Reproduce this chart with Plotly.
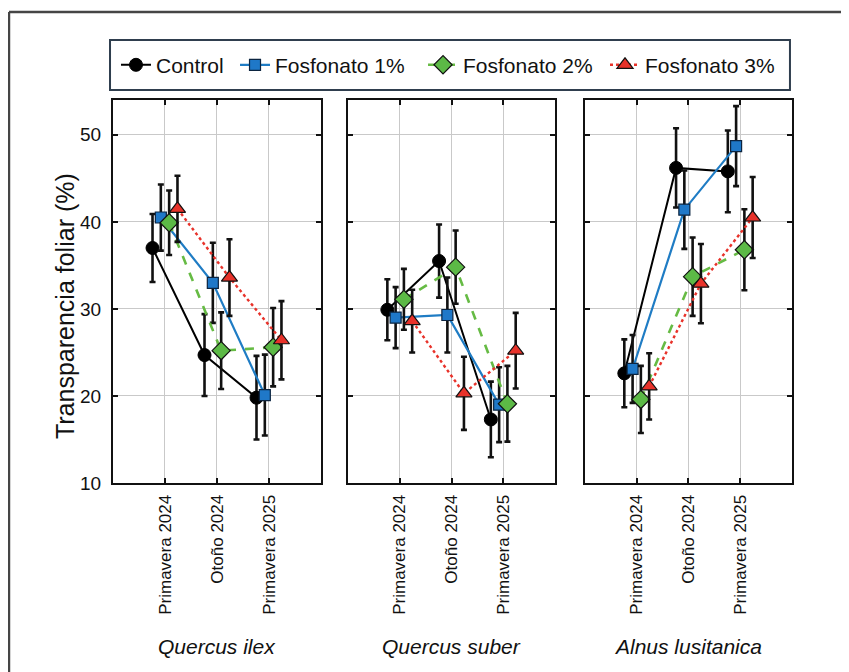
import plotly.graph_objects as go

# ---------------- data ----------------
periods = ["Primavera 2024", "Otoño 2024", "Primavera 2025"]
species = ["Quercus ilex", "Quercus suber", "Alnus lusitanica"]
treatments = ["Control", "Fosfonato 1%", "Fosfonato 2%", "Fosfonato 3%"]

# Quercus ilex
ilex_control = [37.0, 24.7, 19.8]
ilex_control_err = [3.9, 4.7, 4.8]
ilex_f1 = [40.5, 33.0, 20.1]
ilex_f1_err = [3.8, 4.6, 4.65]
ilex_f2 = [39.9, 25.2, 25.6]
ilex_f2_err = [3.7, 4.4, 4.5]
ilex_f3 = [41.5, 33.6, 26.4]
ilex_f3_err = [3.8, 4.4, 4.5]

# Quercus suber
suber_control = [29.9, 35.5, 17.3]
suber_control_err = [3.5, 4.2, 4.35]
suber_f1 = [29.0, 29.3, 19.0]
suber_f1_err = [3.5, 4.3, 4.3]
suber_f2 = [31.1, 34.8, 19.1]
suber_f2_err = [3.5, 4.2, 4.35]
suber_f3 = [28.6, 20.3, 25.2]
suber_f3_err = [3.6, 4.2, 4.35]

# Alnus lusitanica
alnus_control = [22.6, 46.2, 45.8]
alnus_control_err = [3.9, 4.55, 4.7]
alnus_f1 = [23.1, 41.4, 48.7]
alnus_f1_err = [3.9, 4.5, 4.6]
alnus_f2 = [19.6, 33.7, 36.8]
alnus_f2_err = [3.85, 4.5, 4.65]
alnus_f3 = [21.1, 32.9, 40.5]
alnus_f3_err = [3.8, 4.55, 4.65]

y_ticks = [10, 20, 30, 40, 50]

panels = [
    [(ilex_control, ilex_control_err), (ilex_f1, ilex_f1_err), (ilex_f2, ilex_f2_err), (ilex_f3, ilex_f3_err)],
    [(suber_control, suber_control_err), (suber_f1, suber_f1_err), (suber_f2, suber_f2_err), (suber_f3, suber_f3_err)],
    [(alnus_control, alnus_control_err), (alnus_f1, alnus_f1_err), (alnus_f2, alnus_f2_err), (alnus_f3, alnus_f3_err)],
]

# ---------------- style ----------------
FONT = "Liberation Sans"
dodge = [-0.24, -0.08, 0.08, 0.24]
styles = [
    dict(line=dict(color="#000000", width=2, dash="solid"),
         marker=dict(symbol="circle", size=13, color="#000000", line=dict(color="#000000", width=1))),
    dict(line=dict(color="#1f7cc4", width=2.2, dash="solid"),
         marker=dict(symbol="square", size=11, color="#1f78c8", line=dict(color="#0b2440", width=1.2))),
    dict(line=dict(color="#66bb44", width=2.6, dash="dash"),
         marker=dict(symbol="diamond", size=14, color="#5cb946", line=dict(color="#111111", width=1.2))),
    dict(line=dict(color="#e8322a", width=2.4, dash="dot"),
         marker=dict(symbol="triangle-up", size=14, color="#e8322a", line=dict(color="#111111", width=1.2))),
]
legend_ids = ["legend", "legend2", "legend3", "legend4"]
legend_x = [0.0044, 0.1797, 0.4566, 0.7246]

domains = [[0.0, 0.3063], [0.3461, 0.6510], [0.6951, 1.0]]

fig = go.Figure()
for p, series in enumerate(panels):
    xa = "x" if p == 0 else f"x{p+1}"
    ya = "y" if p == 0 else f"y{p+1}"
    for t, (vals, errs) in enumerate(series):
        xs = [i + 1 + dodge[t] for i in range(len(periods))]
        st = styles[t]
        fig.add_trace(go.Scatter(
            x=xs, y=vals, mode="lines+markers", name=treatments[t],
            legendgroup=treatments[t], showlegend=(p == 0), legend=legend_ids[t],
            line=st["line"], marker=st["marker"],
            error_y=dict(type="data", array=errs, visible=True,
                         color="#111111", thickness=2.6, width=3),
            xaxis=xa, yaxis=ya,
        ))

axis_common = dict(
    showline=True, mirror="allticks", linecolor="#111111", linewidth=2,
    ticks="inside", ticklen=5, tickwidth=1.5, tickcolor="#111111",
    showgrid=True, gridcolor="#c9c9c9", gridwidth=1, zeroline=False,
)

layout = dict(
    width=841, height=664,
    paper_bgcolor="white", plot_bgcolor="white",
    margin=dict(l=105, r=57, t=92, b=189),
    font=dict(family=FONT, color="#111111"),
    showlegend=True,
)
for lid, lx in zip(legend_ids, legend_x):
    layout[lid] = dict(orientation="h", x=lx, xanchor="left", y=1.091, yanchor="middle",
                       font=dict(family=FONT, size=21, color="#111111"),
                       bgcolor="rgba(0,0,0,0)", borderwidth=0, itemwidth=30)

for p in range(3):
    xk = "xaxis" if p == 0 else f"xaxis{p+1}"
    yk = "yaxis" if p == 0 else f"yaxis{p+1}"
    layout[xk] = dict(axis_common, domain=domains[p], range=[0, 4],
                      tickvals=[1, 2, 3], ticktext=periods, tickangle=-90,
                      ticklabelstandoff=3,
                      tickfont=dict(family=FONT, size=17, color="#111111"),
                      anchor="y" if p == 0 else f"y{p+1}")
    layout[yk] = dict(axis_common, range=[10, 54], tickvals=y_ticks,
                      showticklabels=(p == 0), ticklabelstandoff=6,
                      tickfont=dict(family=FONT, size=19, color="#111111"),
                      anchor="x" if p == 0 else f"x{p+1}")

fig.update_layout(**layout)

annotations = []
for p, name in enumerate(species):
    cx = (domains[p][0] + domains[p][1]) / 2
    annotations.append(dict(
        x=cx, y=-0.4256, xref="paper", yref="paper", text=f"<i>{name}</i>",
        showarrow=False, font=dict(family=FONT, size=21, color="#111111"),
        xanchor="center", yanchor="middle"))
annotations.append(dict(
    x=-0.0707, y=0.462, xref="paper", yref="paper", text="Transparencia foliar (%)",
    textangle=-90, showarrow=False, font=dict(family=FONT, size=25, color="#111111"),
    xanchor="center", yanchor="middle"))
fig.update_layout(annotations=annotations)

frame_line = dict(color="#454545", width=2.5)
shapes = [
    # outer frame: top and left edges (right and bottom lie outside the picture)
    dict(type="line", xref="paper", yref="paper", x0=-0.1532, x1=1.3, y0=1.2298, y1=1.2298,
         line=frame_line, layer="below"),
    dict(type="line", xref="paper", yref="paper", x0=-0.1532, x1=-0.1532, y0=-0.7, y1=1.2298,
         line=frame_line, layer="below"),
    # legend box
    dict(type="rect", xref="paper", yref="paper", x0=-0.0044, x1=0.997, y0=1.0261, y1=1.1567,
         line=dict(color="#2f3e4e", width=2), fillcolor="rgba(0,0,0,0)", layer="above"),
]
fig.update_layout(shapes=shapes)

fig.write_html("out.html")
